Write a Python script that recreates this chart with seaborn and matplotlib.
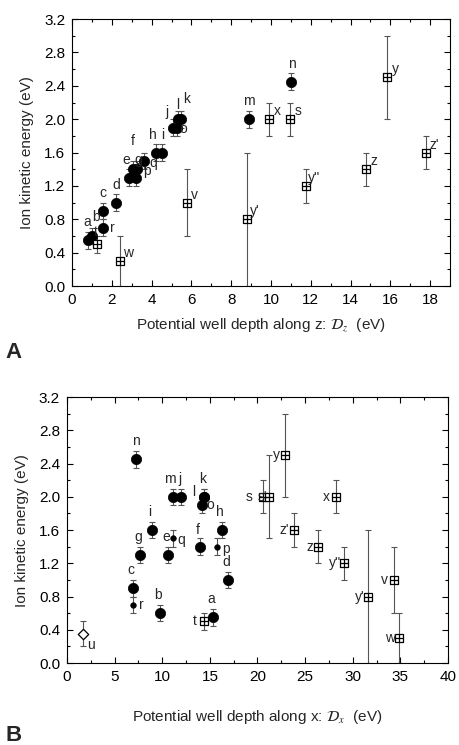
import numpy as np
import pandas as pd
import matplotlib.pyplot as plt
import seaborn as sns
from matplotlib.ticker import MultipleLocator

# ---- panel A: well depth along z ----
a_circ_lbl = ["a", "b", "c", "r", "d", "e", "g", "f", "p", "q", "h", "i", "j", "o", "l", "k", "m", "n"]
a_circ_x = [0.82, 0.98, 1.57, 1.57, 2.23, 2.85, 3.2, 3.05, 3.25, 3.6, 4.2, 4.53, 5.05, 5.25, 5.3, 5.5, 8.9, 11.03]
a_circ_y = [0.55, 0.6, 0.9, 0.7, 1.0, 1.3, 1.3, 1.4, 1.4, 1.5, 1.6, 1.6, 1.9, 1.9, 2.0, 2.0, 2.0, 2.45]
a_circ_err = [0.1] * 18

a_sq_lbl = ["t", "w", "v", "y'", "x", "s", "y''", "z", "y", "z'"]
a_sq_x = [1.23, 2.43, 5.77, 8.78, 9.9, 10.98, 11.77, 14.77, 15.85, 17.78]
a_sq_y = [0.5, 0.3, 1.0, 0.8, 2.0, 2.0, 1.2, 1.4, 2.5, 1.6]
a_sq_err = [0.1, 0.3, 0.4, 0.8, 0.2, 0.2, 0.2, 0.2, 0.5, 0.2]

# ---- panel B: well depth along x ----
b_circ_lbl = ["n", "m", "j", "l", "k", "o", "i", "h", "g", "e", "f", "d", "c", "b", "a"]
b_circ_x = [7.25, 11.1, 11.94, 14.35, 14.4, 14.2, 8.9, 16.25, 7.67, 10.64, 13.97, 16.95, 6.9, 9.77, 15.37]
b_circ_y = [2.45, 2.0, 2.0, 2.0, 2.0, 1.9, 1.6, 1.6, 1.3, 1.3, 1.4, 1.0, 0.9, 0.6, 0.55]
b_circ_err = [0.1] * 15

b_small_lbl = ["q", "p", "r"]
b_small_x = [11.1, 15.72, 6.9]
b_small_y = [1.5, 1.4, 0.7]
b_small_err = [0.1, 0.1, 0.1]

b_dia_lbl = ["u"]
b_dia_x = [1.71]
b_dia_y = [0.35]
b_dia_err = [0.15]

b_sq_lbl = ["t", "s", "s'", "y", "x", "z'", "z", "y''", "y'", "v", "w"]
b_sq_x = [14.39, 20.55, 21.25, 22.9, 28.2, 23.78, 26.4, 29.1, 31.65, 34.3, 34.9]
b_sq_y = [0.5, 2.0, 2.0, 2.5, 2.0, 1.6, 1.4, 1.2, 0.8, 1.0, 0.3]
b_sq_err = [0.1, 0.2, 0.5, 0.5, 0.2, 0.2, 0.2, 0.2, 0.8, 0.4, 0.3]

# label offsets in pixels (dx, dy)
a_circ_off = [(-1, 18), (4, 19), (0, 18), (9, 0), (0, 18), (-3, 18), (3, 18), (0, 28),
              (10, -2), (10, -2), (-3, 18), (1, 18), (-6, 16), (7, -1), (0, 14), (5, 20),
              (0, 18), (0, 18)]
a_sq_off = [(-1, 12)] + [(8, 8)] * 9
b_circ_off = [(0, 18), (-3, 18), (-1, 18), (-10, 5), (-2, 18), (8, 0), (-2, 18), (-2, 18),
              (-2, 18), (-2, 18), (-2, 17), (-2, 18), (-2, 18), (-2, 18), (-2, 18)]
b_small_off = [(9, -2), (9, -2), (9, 0)]
b_dia_off = [(8, -11)]
b_sq_off = [(-9, 0), (-14, 0), (-7, 0)] + [(-9, 0)] * 8

sns.set_style("ticks")
plt.rcParams["font.family"] = ["Liberation Sans", "DejaVu Sans"]
plt.rcParams["mathtext.fontset"] = "stix"

fig = plt.figure(figsize=(4.59, 7.45), dpi=100)
axA = fig.add_axes([0.157, 0.616, 0.8235, 0.3584])
axB = fig.add_axes([0.146, 0.110, 0.830, 0.357])

ecol = "#555555"


def errs(ax, x, y, e):
    ax.errorbar(x, y, yerr=e, fmt="none", ecolor=ecol, elinewidth=0.8,
                capsize=2.5, capthick=0.8, zorder=1)


def labels(ax, lbl, x, y, off):
    for t, xi, yi, (dx, dy) in zip(lbl, x, y, off):
        ax.annotate(t, (xi, yi), xytext=(dx, dy), textcoords="offset pixels",
                    ha="center", va="center", fontsize=10, zorder=5)


def circles(ax, x, y, s):
    sns.scatterplot(x=x, y=y, ax=ax, marker="o", s=s, color="black",
                    edgecolor="black", linewidth=0.5, zorder=3)


def squares(ax, x, y):
    sns.scatterplot(x=x, y=y, ax=ax, marker="s", s=34, facecolor="white",
                    edgecolor="black", linewidth=0.9, zorder=3)
    sns.scatterplot(x=x, y=y, ax=ax, marker="+", s=34, color="black",
                    linewidth=0.9, zorder=4)


# panel A
errs(axA, a_circ_x, a_circ_y, a_circ_err)
errs(axA, a_sq_x, a_sq_y, a_sq_err)
circles(axA, a_circ_x, a_circ_y, 55)
squares(axA, a_sq_x, a_sq_y)
labels(axA, a_circ_lbl, a_circ_x, a_circ_y, a_circ_off)
labels(axA, a_sq_lbl, a_sq_x, a_sq_y, a_sq_off)
axA.set_xlim(0, 19)
axA.xaxis.set_major_locator(MultipleLocator(2))
axA.xaxis.set_minor_locator(MultipleLocator(1))
axA.set_xlabel(r"Potential well depth along z: $\mathcal{D}_z$  (eV)", fontsize=11, labelpad=7)

# panel B
errs(axB, b_circ_x, b_circ_y, b_circ_err)
errs(axB, b_small_x, b_small_y, b_small_err)
errs(axB, b_dia_x, b_dia_y, b_dia_err)
errs(axB, b_sq_x, b_sq_y, b_sq_err)
circles(axB, b_circ_x, b_circ_y, 55)
circles(axB, b_small_x, b_small_y, 16)
sns.scatterplot(x=b_dia_x, y=b_dia_y, ax=axB, marker="D", s=28, facecolor="white",
                edgecolor="black", linewidth=0.9, zorder=3)
squares(axB, b_sq_x, b_sq_y)
labels(axB, b_circ_lbl, b_circ_x, b_circ_y, b_circ_off)
labels(axB, b_small_lbl, b_small_x, b_small_y, b_small_off)
labels(axB, b_dia_lbl, b_dia_x, b_dia_y, b_dia_off)
labels(axB, b_sq_lbl, b_sq_x, b_sq_y, b_sq_off)
axB.set_xlim(0, 40)
axB.xaxis.set_major_locator(MultipleLocator(5))
axB.xaxis.set_minor_locator(MultipleLocator(2.5))
axB.set_xlabel(r"Potential well depth along x: $\mathcal{D}_x$  (eV)", fontsize=11, labelpad=17)

for ax in (axA, axB):
    ax.set_ylim(0, 3.2)
    ax.yaxis.set_major_locator(MultipleLocator(0.4))
    ax.yaxis.set_minor_locator(MultipleLocator(0.2))
    ax.yaxis.set_major_formatter(lambda v, p: f"{v:.1f}")
    ax.set_ylabel("Ion kinetic energy (eV)", fontsize=11, labelpad=7)
    ax.tick_params(which="both", direction="in", top=True, right=True,
                   labelsize=11, colors="black", pad=5)
    ax.tick_params(which="major", length=4, width=0.8)
    ax.tick_params(which="minor", length=2.5, width=0.8)
    for sp in ax.spines.values():
        sp.set_linewidth(0.8)
        sp.set_color("black")

fig.text(0.012, 0.527, "A", fontsize=16, fontweight="bold", ha="left", va="center")
fig.text(0.012, 0.013, "B", fontsize=16, fontweight="bold", ha="left", va="center")

fig.savefig("out.png", dpi=100)
